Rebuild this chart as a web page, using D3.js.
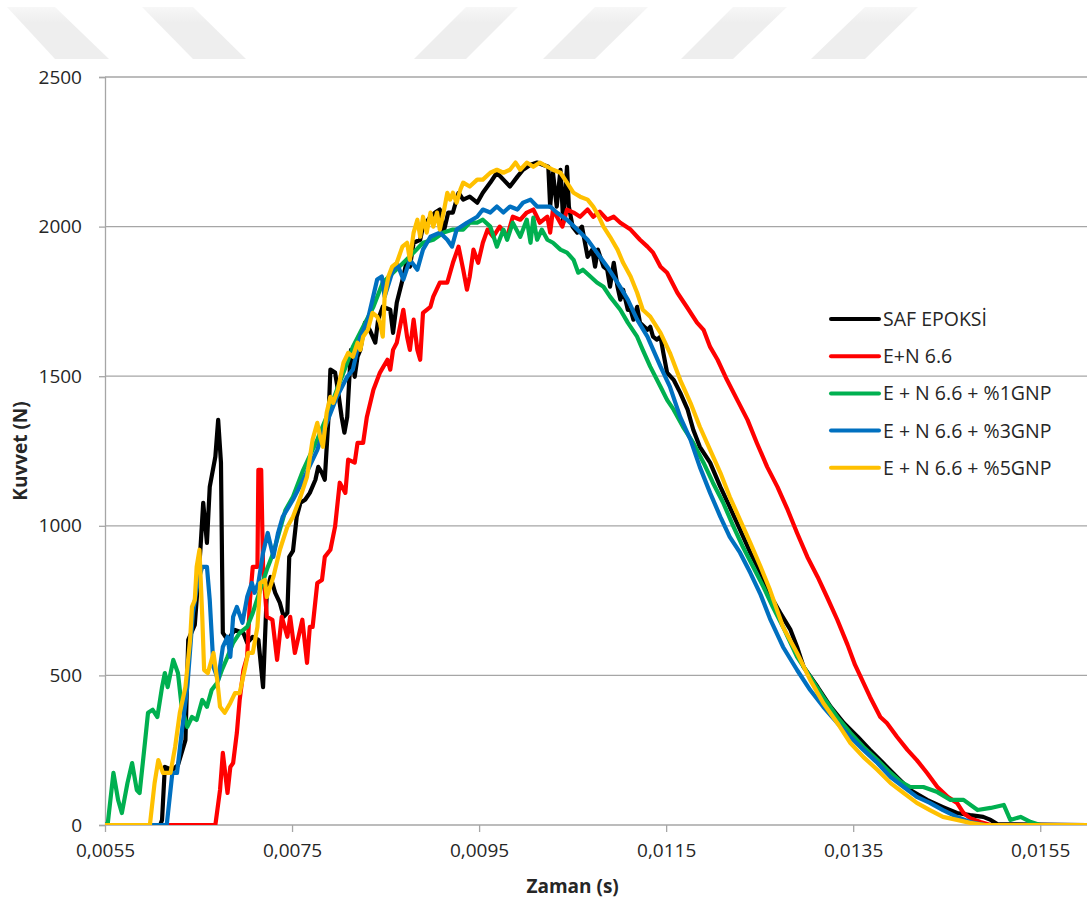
<!DOCTYPE html>
<html>
<head>
<meta charset="utf-8">
<script src="https://cdn.jsdelivr.net/npm/d3@7"></script>
<style>
  body { margin: 0; background: #fff; }
  svg { display: block; }
</style>
</head>
<body>
<div id="chart"></div>
<script>
// force (N) vs time (s)

var safEpoksi = [
  [0.0055,0],[0.00609,0],[0.00611,17],[0.00614,194],[0.00622,184],[0.00628,200],[0.00636,284],[0.00639,619],
  [0.00646,669],[0.00652,920],[0.00655,1077],[0.00659,943],[0.00662,1130],[0.00668,1231],[0.00671,1354],
  [0.00674,1211],[0.00676,642],[0.00681,619],[0.00689,652],[0.00698,642],[0.00702,609],[0.00708,629],
  [0.00714,619],[0.00719,461],[0.00723,776],[0.00727,829],[0.00732,776],[0.00737,742],[0.00741,696],
  [0.00745,709],[0.00747,896],[0.00751,916],[0.00755,1030],[0.00759,1077],[0.00764,1087],[0.00769,1110],
  [0.00775,1154],[0.00778,1197],[0.00782,1177],[0.00785,1154],[0.00789,1364],[0.00791,1522],[0.00796,1512],
  [0.00799,1455],[0.00803,1364],[0.00806,1311],[0.00809,1364],[0.00811,1478],[0.00813,1588],[0.00817,1498],
  [0.0082,1565],[0.00823,1588],[0.00828,1679],[0.00833,1655],[0.00839,1612],[0.00842,1689],[0.00847,1732],
  [0.00855,1722],[0.00858,1645],[0.00862,1746],[0.00869,1833],[0.00873,1889],[0.00876,1866],[0.0088,1946],
  [0.00887,1956],[0.0089,2000],[0.00898,2033],[0.00903,2047],[0.00908,2057],[0.00912,1980],[0.00917,2047],
  [0.00922,2047],[0.00928,2113],[0.00933,2090],[0.0094,2100],[0.00948,2080],[0.00954,2113],[0.00962,2147],
  [0.00969,2180],[0.00976,2157],[0.00983,2134],[0.00991,2167],[0.00997,2190],[0.01005,2207],[0.01012,2214],
  [0.01018,2207],[0.01024,2200],[0.01026,2067],[0.01029,2180],[0.01033,2067],[0.01037,2190],[0.0104,2013],
  [0.01044,2200],[0.01046,2067],[0.0105,2000],[0.01055,1980],[0.0106,2000],[0.01066,1899],[0.01071,1923],
  [0.01074,1866],[0.01077,1923],[0.01083,1866],[0.01087,1856],[0.0109,1799],[0.01094,1879],[0.01098,1799],
  [0.01101,1756],[0.01104,1789],[0.01109,1722],[0.01112,1722],[0.01115,1689],[0.01119,1732],[0.01122,1679],
  [0.0113,1655],[0.01133,1665],[0.01136,1632],[0.0114,1622],[0.01144,1632],[0.01147,1578],[0.01151,1512],
  [0.01158,1488],[0.01165,1445],[0.01173,1388],[0.01179,1321],[0.01186,1264],[0.01197,1211],[0.01208,1130],
  [0.01218,1063],[0.01229,987],[0.0124,910],[0.01251,843],[0.01261,769],[0.01272,709],[0.01283,652],
  [0.0129,595],[0.01297,528],[0.01312,461],[0.01326,395],[0.0134,341],[0.01355,294],[0.01368,251],
  [0.01382,207],[0.01397,160],[0.01411,117],[0.01429,84],[0.01446,60],[0.01461,40],[0.01475,33],
  [0.01489,27],[0.01497,17],[0.01504,3],[0.0160,0]
];

var eN66 = [
  [0.0055,0],[0.00668,0],[0.00673,117],[0.00676,241],[0.00681,107],[0.00684,194],[0.00687,207],[0.00691,308],
  [0.00694,418],[0.00698,518],[0.00702,562],[0.00705,752],[0.00708,863],[0.00713,863],[0.00714,1187],
  [0.00717,1187],[0.00719,863],[0.00723,696],[0.00729,686],[0.00734,552],[0.00739,696],[0.00745,629],
  [0.00748,696],[0.00753,575],[0.00761,686],[0.00766,542],[0.00769,662],[0.00772,662],[0.00777,809],
  [0.00782,819],[0.00785,896],[0.00791,920],[0.00796,997],[0.00801,1144],[0.00807,1110],[0.0081,1221],
  [0.00817,1211],[0.0082,1277],[0.00826,1277],[0.0083,1364],[0.00837,1455],[0.00844,1512],[0.00852,1555],
  [0.00855,1522],[0.00858,1588],[0.00862,1612],[0.00869,1722],[0.00873,1632],[0.00876,1588],[0.0088,1689],
  [0.00884,1588],[0.00887,1555],[0.0089,1712],[0.00898,1732],[0.00901,1766],[0.00908,1813],[0.00916,1813],
  [0.00922,1879],[0.00928,1933],[0.00933,1856],[0.00937,1789],[0.0094,1833],[0.00944,1923],[0.00949,1879],
  [0.00954,1946],[0.00959,1990],[0.00965,1966],[0.00972,2000],[0.0098,1966],[0.00986,2033],[0.00994,2023],
  [0.01001,2047],[0.01008,2057],[0.01015,2013],[0.01023,2033],[0.01026,1980],[0.01029,2057],[0.01035,2023],
  [0.01039,2000],[0.01044,2057],[0.01051,2047],[0.01058,2033],[0.01066,2057],[0.01072,2033],[0.01079,2050],
  [0.01087,2023],[0.01094,2033],[0.01101,2013],[0.01112,1990],[0.01122,1956],[0.0113,1933],[0.01136,1913],
  [0.01144,1866],[0.01151,1846],[0.01162,1779],[0.01172,1732],[0.01183,1679],[0.0119,1655],[0.01197,1598],
  [0.01205,1555],[0.01215,1488],[0.01226,1421],[0.01237,1354],[0.01247,1277],[0.01258,1197],[0.01269,1130],
  [0.0128,1053],[0.0129,976],[0.01301,896],[0.01312,829],[0.01322,762],[0.01333,686],[0.01344,602],
  [0.01352,535],[0.01358,495],[0.01368,428],[0.01379,361],[0.01386,341],[0.01397,294],[0.01408,251],
  [0.01418,217],[0.01429,174],[0.0144,127],[0.01451,94],[0.01461,74],[0.01468,40],[0.01475,23],
  [0.01486,10],[0.01497,0],[0.0160,0]
];

var eN66Gnp1 = [
  [0.0055,0],[0.00553,7],[0.00559,174],[0.00564,84],[0.00568,40],[0.00574,140],[0.00579,207],[0.00584,117],
  [0.00587,107],[0.00593,284],[0.00596,375],[0.00601,385],[0.00606,361],[0.00611,461],[0.00614,508],
  [0.00617,461],[0.00623,552],[0.00628,508],[0.00632,395],[0.00638,328],[0.00643,361],[0.00648,351],
  [0.00654,418],[0.00659,395],[0.00664,451],[0.0067,475],[0.00675,518],[0.00681,562],[0.00687,609],
  [0.00694,642],[0.00702,662],[0.00708,709],[0.00716,786],[0.00723,853],[0.0073,910],[0.00737,987],
  [0.00743,1053],[0.00751,1097],[0.00762,1187],[0.00777,1288],[0.00787,1364],[0.00798,1455],[0.00809,1545],
  [0.00815,1598],[0.00826,1665],[0.00837,1732],[0.00847,1813],[0.00858,1846],[0.00869,1879],[0.0088,1913],
  [0.0089,1946],[0.00901,1956],[0.00912,1980],[0.00922,1990],[0.00933,1990],[0.0094,2013],[0.00948,2013],
  [0.00954,2023],[0.00962,2000],[0.00969,1933],[0.00976,1990],[0.0098,1956],[0.00986,2013],[0.00994,1966],
  [0.01001,2023],[0.01005,1946],[0.01008,2030],[0.01012,1956],[0.01017,1990],[0.01023,1956],[0.01029,1946],
  [0.01037,1923],[0.01044,1913],[0.01051,1889],[0.01056,1846],[0.01061,1856],[0.01069,1833],[0.01076,1813],
  [0.01083,1799],[0.0109,1766],[0.01101,1722],[0.01109,1679],[0.01119,1632],[0.01125,1588],[0.01133,1532],
  [0.01144,1465],[0.01151,1421],[0.01158,1388],[0.01168,1331],[0.01179,1277],[0.0119,1211],[0.012,1144],
  [0.01211,1077],[0.01222,997],[0.01232,930],[0.01243,863],[0.01254,796],[0.01264,729],[0.01275,662],
  [0.0129,562],[0.01304,495],[0.01318,428],[0.01333,361],[0.01347,308],[0.01361,261],[0.01376,217],
  [0.0139,174],[0.01401,144],[0.01411,127],[0.01425,127],[0.0144,110],[0.01454,84],[0.01468,84],
  [0.01483,50],[0.01497,57],[0.01511,67],[0.01518,17],[0.01529,27],[0.0154,10],[0.0155,0],[0.0160,0]
];

var eN66Gnp3 = [
  [0.0055,0],[0.00616,0],[0.00622,174],[0.00627,174],[0.00632,308],[0.00638,461],[0.00641,585],[0.00644,709],
  [0.00649,809],[0.00654,863],[0.00659,863],[0.00662,752],[0.00666,528],[0.00671,485],[0.00676,595],
  [0.00681,629],[0.00684,562],[0.00687,696],[0.00691,729],[0.00697,676],[0.00702,762],[0.00707,809],
  [0.0071,776],[0.00714,809],[0.00719,910],[0.00724,976],[0.0073,896],[0.00735,976],[0.0074,1030],
  [0.00751,1087],[0.00762,1154],[0.00777,1254],[0.00787,1344],[0.00798,1431],[0.00809,1498],[0.00815,1522],
  [0.00823,1632],[0.00831,1689],[0.00841,1823],[0.00846,1833],[0.00849,1766],[0.00857,1846],[0.00862,1879],
  [0.00869,1823],[0.00876,1889],[0.00884,1856],[0.0089,1923],[0.00898,1966],[0.00908,1980],[0.00916,1956],
  [0.00921,1933],[0.00926,1990],[0.00937,2013],[0.00948,2033],[0.00954,2057],[0.00962,2047],[0.00969,2067],
  [0.00976,2047],[0.00983,2067],[0.00991,2057],[0.00997,2080],[0.01005,2090],[0.01012,2067],[0.01026,2067],
  [0.01033,2047],[0.01044,2023],[0.01055,1990],[0.01066,1956],[0.01076,1913],[0.01087,1866],[0.01098,1813],
  [0.01109,1756],[0.01119,1689],[0.0113,1632],[0.01144,1532],[0.01154,1465],[0.01165,1364],[0.01176,1288],
  [0.01186,1197],[0.01197,1110],[0.01208,1030],[0.01218,963],[0.01229,910],[0.0124,843],[0.01251,770],
  [0.01261,690],[0.01275,595],[0.0129,518],[0.01304,451],[0.01318,395],[0.01333,341],[0.01347,294],
  [0.01361,251],[0.01376,207],[0.0139,160],[0.01404,127],[0.01418,94],[0.01432,74],[0.01446,50],
  [0.01461,27],[0.01475,10],[0.01491,0],[0.0160,0]
];

var eN66Gnp5 = [
  [0.0055,0],[0.00598,0],[0.00603,140],[0.00607,217],[0.00612,174],[0.0062,174],[0.00625,261],[0.0063,375],
  [0.00636,461],[0.00641,619],[0.00643,729],[0.00646,752],[0.00648,863],[0.00651,920],[0.00654,696],
  [0.00656,518],[0.0066,508],[0.00666,575],[0.0067,485],[0.00673,395],[0.00678,375],[0.00684,408],
  [0.00689,441],[0.00694,441],[0.007,528],[0.00703,575],[0.00708,575],[0.00713,662],[0.00716,809],
  [0.00721,819],[0.00723,762],[0.0073,829],[0.00737,920],[0.00745,997],[0.00751,1030],[0.00759,1097],
  [0.00766,1164],[0.00772,1288],[0.00777,1344],[0.0078,1298],[0.00783,1264],[0.00787,1378],[0.00791,1431],
  [0.00794,1411],[0.00799,1455],[0.00805,1545],[0.0081,1578],[0.00815,1565],[0.0082,1612],[0.00823,1588],
  [0.00826,1632],[0.00831,1655],[0.00836,1712],[0.00841,1699],[0.00844,1679],[0.00847,1632],[0.00849,1766],
  [0.00853,1833],[0.00857,1866],[0.00862,1879],[0.00868,1933],[0.00873,1946],[0.00876,1889],[0.0088,1980],
  [0.00884,2023],[0.00887,1966],[0.0089,2033],[0.00894,1980],[0.00898,2047],[0.00901,2000],[0.00905,2047],
  [0.00908,1990],[0.00912,2047],[0.00916,2113],[0.00919,2090],[0.00922,2113],[0.00926,2080],[0.0093,2124],
  [0.00933,2147],[0.0094,2134],[0.00948,2157],[0.00954,2157],[0.00962,2180],[0.00969,2190],[0.00976,2180],
  [0.00983,2190],[0.00989,2214],[0.00994,2190],[0.01001,2214],[0.01008,2200],[0.01015,2214],[0.01023,2200],
  [0.01029,2190],[0.01037,2180],[0.01044,2147],[0.01051,2113],[0.01058,2100],[0.01066,2090],[0.01072,2067],
  [0.01077,2040],[0.01083,2000],[0.0109,1966],[0.01098,1923],[0.01104,1879],[0.01112,1833],[0.01119,1779],
  [0.01125,1722],[0.01133,1699],[0.01144,1645],[0.01154,1578],[0.01165,1488],[0.01176,1411],[0.01186,1331],
  [0.01197,1254],[0.01208,1177],[0.01218,1097],[0.01229,1020],[0.0124,943],[0.01251,863],[0.01261,786],
  [0.01275,662],[0.0129,575],[0.01304,485],[0.01318,408],[0.01333,341],[0.01347,274],[0.01361,227],
  [0.01376,184],[0.0139,140],[0.01404,107],[0.01418,74],[0.01432,50],[0.01446,27],[0.01461,17],
  [0.01475,7],[0.01491,0],[0.0160,0]
];

var seriesNames = ["SAF EPOKSİ", "E+N 6.6", "E + N 6.6 + %1GNP", "E + N 6.6 + %3GNP", "E + N 6.6 + %5GNP"];
var seriesColors = ["#000000", "#ff0000", "#00b050", "#0070c0", "#ffc000"];
var seriesData = [safEpoksi, eN66, eN66Gnp1, eN66Gnp3, eN66Gnp5];

var xTicks = [0.0055, 0.0075, 0.0095, 0.0115, 0.0135, 0.0155];
var yTicks = [0, 500, 1000, 1500, 2000, 2500];

// pale watermark stripes at the top of the page
var stripes = [
  [[7,7],[55,7],[109,59],[55,59]],
  [[142,7],[193,7],[246,59],[193,59]],
  [[466,7],[518,7],[466,59],[414,59]],
  [[595,7],[648,7],[595,59],[543,59]],
  [[733,7],[787,7],[733,59],[681,59]],
  [[865,7],[918,7],[865,59],[811,59]]
];

var W = 1087, H = 901;
var margin = {top: 77, right: 0, bottom: 76, left: 105};
var width = W - margin.left - margin.right,
    height = H - margin.top - margin.bottom;

var svg = d3.select("#chart").append("svg")
  .attr("width", W).attr("height", H);

var defs = svg.append("defs");
var grad = defs.append("linearGradient").attr("id", "fade")
  .attr("x1", 0).attr("y1", 0).attr("x2", 0).attr("y2", 1);
grad.append("stop").attr("offset", "0").attr("stop-color", "#f7f7f7");
grad.append("stop").attr("offset", "0.3").attr("stop-color", "#eeeeee");
grad.append("stop").attr("offset", "1").attr("stop-color", "#eeeeee");

svg.selectAll("polygon.stripe").data(stripes).join("polygon")
  .attr("class", "stripe")
  .attr("points", function(d){ return d.map(function(p){ return p.join(","); }).join(" "); })
  .style("fill", "url(#fade)");

var g = svg.append("g")
  .attr("transform", "translate(" + margin.left + "," + margin.top + ")");

var x = d3.scaleLinear().domain([0.0055, 0.0160]).range([0, width]);
var y = d3.scaleLinear().domain([0, 2500]).range([height, 0]);

// gridlines
g.append("g")
  .selectAll("line").data(yTicks.filter(function(v){ return v > 0; })).join("line")
  .attr("x1", 0).attr("x2", width)
  .attr("y1", function(d){ return y(d); }).attr("y2", function(d){ return y(d); })
  .style("stroke", "#a6a6a6").style("stroke-width", 1.3);

var fmtX = function(d){ return d3.format(".4f")(d).replace(".", ","); };

var xAxis = g.append("g")
  .attr("transform", "translate(0," + height + ")")
  .call(d3.axisBottom(x).tickValues(xTicks).tickFormat(fmtX).tickSize(7).tickPadding(12));
var yAxis = g.append("g")
  .call(d3.axisLeft(y).tickValues(yTicks).tickFormat(d3.format("d")).tickSize(6).tickPadding(17));

[xAxis, yAxis].forEach(function(a){
  a.select(".domain").style("stroke", "#a6a6a6").style("stroke-width", 1.3);
  a.selectAll(".tick line").style("stroke", "#a6a6a6").style("stroke-width", 1.3);
  a.selectAll("text")
    .style("font-family", "'Open Sans', sans-serif")
    .style("font-size", "19px")
    .style("fill", "#262626");
});
// x axis: domain line starts at the y axis
xAxis.select(".domain").attr("d", "M0,0H" + width);

g.append("clipPath").attr("id", "plotclip")
  .append("rect").attr("x", 0).attr("y", -10).attr("width", width).attr("height", height + 10);

var line = d3.line()
  .x(function(d){ return x(d[0]); })
  .y(function(d){ return y(d[1]); });

g.append("g").attr("clip-path", "url(#plotclip)")
  .selectAll("path").data(seriesData).join("path")
  .attr("d", line)
  .style("fill", "none")
  .style("stroke", function(d, i){ return seriesColors[i]; })
  .style("stroke-width", 4.2)
  .style("stroke-linejoin", "round")
  .style("stroke-linecap", "round");

// axis titles
svg.append("text")
  .attr("x", margin.left + x(0.0105)).attr("y", 893)
  .attr("text-anchor", "middle")
  .style("font-family", "'Open Sans', sans-serif").style("font-weight", "bold")
  .style("font-size", "19px").style("fill", "#262626")
  .text("Zaman (s)");

svg.append("text")
  .attr("transform", "translate(27," + (margin.top + y(1250)) + ") rotate(-90)")
  .attr("text-anchor", "middle")
  .style("font-family", "'Open Sans', sans-serif").style("font-weight", "bold")
  .style("font-size", "19px").style("fill", "#262626")
  .text("Kuvvet (N)");

// legend
var legend = svg.append("g").attr("transform", "translate(831,319)");
var items = legend.selectAll("g").data(seriesNames).join("g")
  .attr("transform", function(d, i){ return "translate(0," + (i * 37.2) + ")"; });
items.append("line")
  .attr("x1", 0).attr("x2", 48).attr("y1", 0).attr("y2", 0)
  .style("stroke", function(d, i){ return seriesColors[i]; })
  .style("stroke-width", 4).style("stroke-linecap", "round");
items.append("text")
  .attr("x", 52).attr("y", 7)
  .style("font-family", "'Open Sans', sans-serif")
  .style("font-size", "19.5px").style("fill", "#262626")
  .text(function(d){ return d; });
</script>
</body>
</html>
